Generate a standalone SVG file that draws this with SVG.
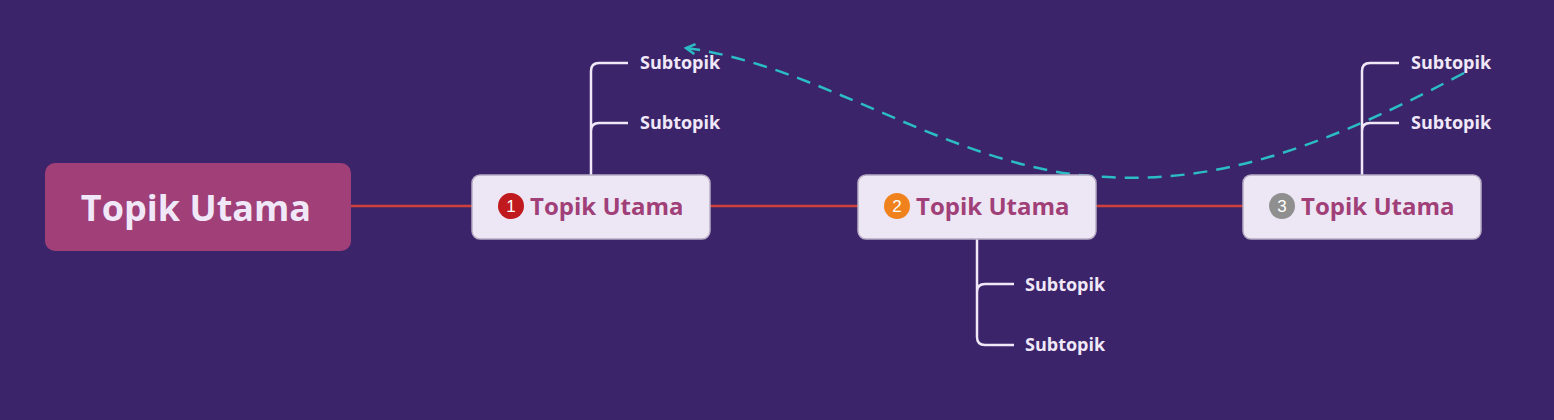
<svg xmlns="http://www.w3.org/2000/svg" width="1554" height="420" viewBox="0 0 1554 420">
<style>
.node{fill:#ede6f4;stroke:#b7acc4;stroke-width:1.5}
.t{font-family:"Segoe UI","Open Sans","Noto Sans",sans-serif;font-weight:bold;font-size:24px;fill:#a03f78}
.sub{font-family:"Segoe UI","Open Sans","Noto Sans",sans-serif;font-weight:bold;font-size:18px;fill:#f0e8f8}
.br{fill:none;stroke:#f0e8f8;stroke-width:2.5}
.num{font-family:"Liberation Sans",sans-serif;font-size:17px;fill:#fff;text-anchor:middle}
</style>
<defs>
<marker id="ah" viewBox="0 0 12 12" refX="10" refY="6" markerWidth="12" markerHeight="12" markerUnits="userSpaceOnUse" orient="auto">
<path d="M1,1 L10,6 L1,11" fill="none" stroke="#2bbcc4" stroke-width="2.5"/>
</marker>
</defs>
<rect width="1554" height="420" fill="#3b246a"/>
<g id="connectors">
<line x1="351" y1="206" x2="1243" y2="206" stroke="#d0403a" stroke-width="2.5"/>
<path class="br" d="M591,175 V71 Q591,63 599,63 H628 M591,131 Q591,123 599,123 H628"/>
<path class="br" d="M977,239 V337 Q977,345 985,345 H1014 M977,292 Q977,284 985,284 H1014"/>
<path class="br" d="M1362,175 V71 Q1362,63 1370,63 H1399 M1362,131 Q1362,123 1370,123 H1399"/>
<path d="M1464,73 C1300,160 1200,185 1090,176 C950,165 820,65 686,48" fill="none" stroke="#2bbcc4" stroke-width="2.5" stroke-dasharray="14,9" marker-end="url(#ah)"/>
</g>
<g id="main">
<rect x="45" y="163" width="306" height="88" rx="10" fill="#a03f78"/>
<text x="196" y="221" text-anchor="middle" font-family="'Segoe UI','Open Sans','Noto Sans',sans-serif" font-weight="bold" font-size="36" fill="#f0e8f8">Topik Utama</text>
</g>
<g id="n1">
<rect class="node" x="472" y="175" width="238" height="64" rx="8"/>
<circle cx="511" cy="206" r="13" fill="#c0191e"/><text class="num" x="511" y="212">1</text>
<text class="t" x="530" y="215">Topik Utama</text>
</g>
<g id="n2">
<rect class="node" x="858" y="175" width="238" height="64" rx="8"/>
<circle cx="897" cy="206" r="13" fill="#f0821e"/><text class="num" x="897" y="212">2</text>
<text class="t" x="916" y="215">Topik Utama</text>
</g>
<g id="n3">
<rect class="node" x="1243" y="175" width="238" height="64" rx="8"/>
<circle cx="1282" cy="206" r="13" fill="#8f8f8f"/><text class="num" x="1282" y="212">3</text>
<text class="t" x="1301" y="215">Topik Utama</text>
</g>
<g id="s1a"><text class="sub" x="640" y="69">Subtopik</text></g>
<g id="s1b"><text class="sub" x="640" y="129">Subtopik</text></g>
<g id="s2a"><text class="sub" x="1025" y="291">Subtopik</text></g>
<g id="s2b"><text class="sub" x="1025" y="351">Subtopik</text></g>
<g id="s3a"><text class="sub" x="1411" y="69">Subtopik</text></g>
<g id="s3b"><text class="sub" x="1411" y="129">Subtopik</text></g>
</svg>
